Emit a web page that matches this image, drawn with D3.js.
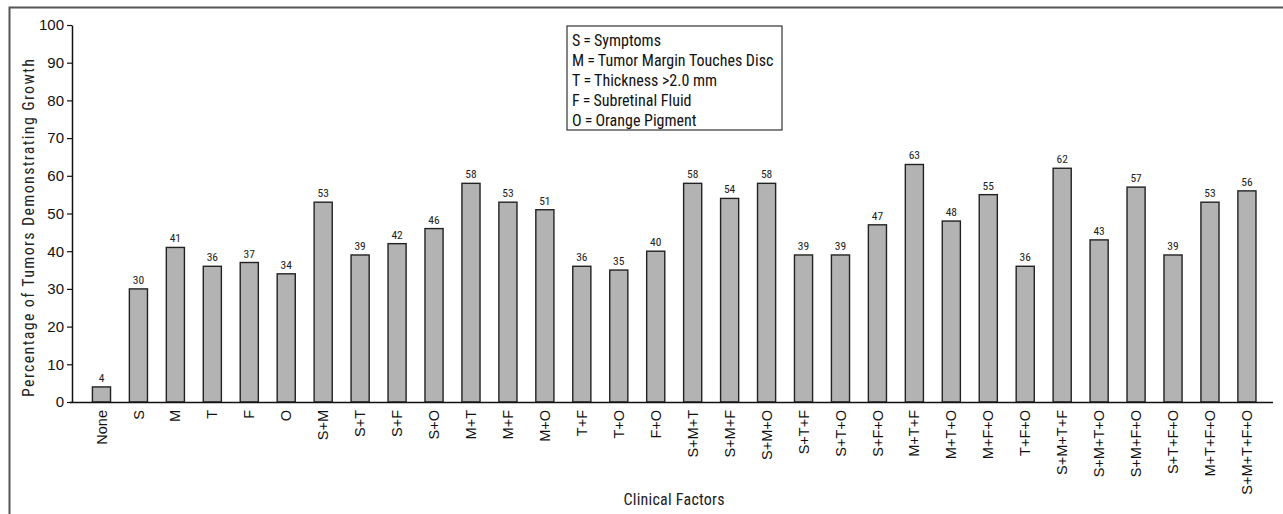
<!DOCTYPE html>
<html>
<head>
<meta charset="utf-8">
<script src="https://cdn.jsdelivr.net/npm/d3@7"></script>
<style>
  body { margin: 0; background: #fff; }
  svg { display: block; font-family: "Liberation Sans Narrow", "Arial Narrow", "Roboto Condensed", sans-serif; }
</style>
</head>
<body>
<svg id="chart" width="1283" height="514"></svg>
<script>
var categories = ["None", "S", "M", "T", "F", "O", "S+M", "S+T", "S+F", "S+O", "M+T", "M+F", "M+O",
  "T+F", "T+O", "F+O", "S+M+T", "S+M+F", "S+M+O", "S+T+F", "S+T+O", "S+F+O", "M+T+F", "M+T+O",
  "M+F+O", "T+F+O", "S+M+T+F", "S+M+T+O", "S+M+F+O", "S+T+F+O", "M+T+F+O", "S+M+T+F+O"];
var values = [4, 30, 41, 36, 37, 34, 53, 39, 42, 46, 58, 53, 51, 36, 35, 40, 58, 54, 58, 39, 39, 47,
  63, 48, 55, 36, 62, 43, 57, 39, 53, 56];
var yTicks = [0, 10, 20, 30, 40, 50, 60, 70, 80, 90, 100];
var legendLines = ["S\u2009=\u2009Symptoms", "M\u2009=\u2009Tumor Margin Touches Disc",
  "T\u2009=\u2009Thickness >2.0 mm", "F\u2009=\u2009Subretinal Fluid", "O\u2009=\u2009Orange Pigment"];

var data = categories.map(function (c, i) { return { cat: c, val: values[i] }; });

var svg = d3.select("#chart");

// outer frame (right and bottom edges fall outside the picture)
svg.append("rect")
  .attr("x", 9.5).attr("y", 7.5)
  .attr("width", 1290).attr("height", 520)
  .attr("fill", "none")
  .attr("stroke", "#555")
  .attr("stroke-width", 2);

var x = d3.scaleBand()
  .domain(categories)
  .range([83, 1265.4])
  .paddingInner(0.51)
  .paddingOuter(0.255);

var y = d3.scaleLinear().domain([0, 100]).range([402, 25]);

// bars
svg.append("g")
  .selectAll("rect")
  .data(data)
  .enter()
  .append("rect")
  .attr("x", function (d) { return x(d.cat); })
  .attr("y", function (d) { return y(d.val); })
  .attr("width", x.bandwidth())
  .attr("height", function (d) { return y(0) - y(d.val); })
  .attr("fill", "#b3b3b3")
  .attr("stroke", "#222")
  .attr("stroke-width", 1.4);

// value labels
svg.append("g")
  .selectAll("text")
  .data(data)
  .enter()
  .append("text")
  .attr("x", function (d) { return x(d.cat) + x.bandwidth() / 2; })
  .attr("y", function (d) { return y(d.val) - 5; })
  .attr("text-anchor", "middle")
  .attr("font-size", 11.5)
  .attr("fill", "#222")
  .text(function (d) { return d.val; });

// y axis
var yAxis = svg.append("g")
  .attr("transform", "translate(72,0)")
  .call(d3.axisLeft(y).tickValues(yTicks).tickSize(5).tickSizeOuter(0));
yAxis.select(".domain").attr("stroke", "#111").attr("stroke-width", 1.5);
yAxis.selectAll(".tick line").attr("stroke", "#111").attr("stroke-width", 1.2);
yAxis.selectAll(".tick text")
  .attr("x", -8)
  .attr("font-size", 15)
  .attr("fill", "#111")
  .attr("font-family", null);

// x axis
var xAxis = svg.append("g")
  .attr("transform", "translate(0,402)")
  .call(d3.axisBottom(x).tickSize(0).tickSizeOuter(0));
xAxis.select(".domain").remove();
svg.append("line")
  .attr("x1", 70).attr("x2", 1273)
  .attr("y1", 402.5).attr("y2", 402.5)
  .attr("stroke", "#111")
  .attr("stroke-width", 1.5);
xAxis.selectAll(".tick text")
  .attr("transform", "rotate(-90)")
  .attr("x", -8)
  .attr("y", 0)
  .attr("dy", "0.35em")
  .attr("text-anchor", "end")
  .attr("font-size", 14.5)
  .attr("fill", "#111")
  .attr("font-family", null);

// axis titles
svg.append("text")
  .attr("transform", "translate(34,228) rotate(-90)")
  .attr("text-anchor", "middle")
  .attr("font-size", 16)
  .attr("textLength", 338)
  .attr("lengthAdjust", "spacing")
  .attr("fill", "#222")
  .text("Percentage of Tumors Demonstrating Growth");

svg.append("text")
  .attr("x", 674)
  .attr("y", 505)
  .attr("text-anchor", "middle")
  .attr("font-size", 16)
  .attr("textLength", 101)
  .attr("lengthAdjust", "spacing")
  .attr("fill", "#222")
  .text("Clinical Factors");

// legend box
var legend = svg.append("g").attr("transform", "translate(567,26)");
legend.append("rect")
  .attr("width", 215).attr("height", 104)
  .attr("fill", "#fff")
  .attr("stroke", "#333")
  .attr("stroke-width", 1.2);
legend.selectAll("text")
  .data(legendLines)
  .enter()
  .append("text")
  .attr("x", 5)
  .attr("y", function (d, i) { return 19.5 + i * 20.2; })
  .attr("font-size", 16)
  .attr("fill", "#111")
  .text(function (d) { return d; });
</script>
</body>
</html>
